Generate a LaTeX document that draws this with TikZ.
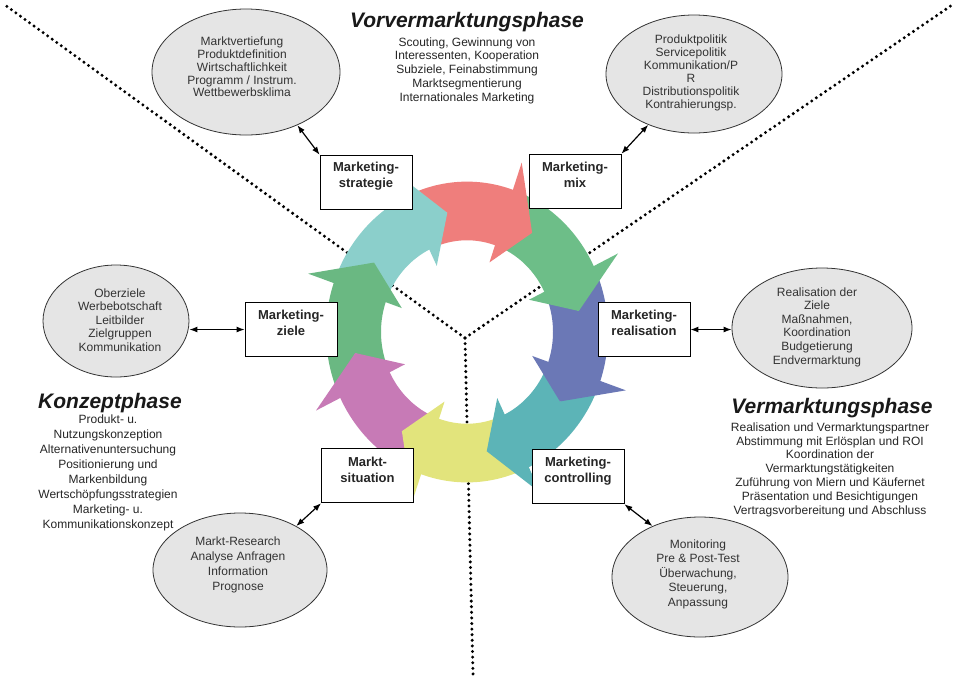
\documentclass[tikz,border=0pt]{standalone}
\usepackage{fontspec}
\setmainfont{Liberation Sans}
\usetikzlibrary{shapes.geometric,arrows.meta}
\definecolor{ringred}{HTML}{EF7E7C}
\definecolor{ringgreen}{HTML}{6DBE88}
\definecolor{ringblue}{HTML}{6B78B6}
\definecolor{ringteal}{HTML}{5CB4B7}
\definecolor{ringyellow}{HTML}{E2E47C}
\definecolor{ringmagenta}{HTML}{C77AB6}
\definecolor{ringgreentwo}{HTML}{6AB882}
\definecolor{ringcyan}{HTML}{8BCFCB}
\definecolor{ellfill}{HTML}{E5E5E5}
\newcommand{\ringbody}[4]{\fill[#4] (#1:141) -- plot[domain=#1:#2, samples=30] (\x:141) -- plot[domain=#2:#1, samples=30] (\x:86) -- (#3:113.5) -- cycle;}
\newcommand{\ringhead}[3]{\fill[#3] (#1:168) -- (#2:113.5) -- (#1:69) -- cycle;}
\begin{document}
\begin{tikzpicture}[x=0.75pt,y=-0.75pt,
 dotline/.style={line width=2.5pt, dash pattern=on 0pt off 4.2pt, line cap=round, black},
 mbox/.style={draw=black, fill=white, line width=0.6pt, minimum width=69pt, minimum height=41pt, inner sep=0pt},
 mtext/.style={font=\bfseries\fontsize{9.75}{12}\selectfont, align=center, inner sep=0pt, text=black!85},
 ell/.style={ellipse, draw=black!80, fill=ellfill, line width=0.6pt, inner sep=0pt},
 etext/.style={font=\fontsize{9}{#1}\selectfont, align=center, inner sep=0pt, text=black!80},
 etext/.default=10,
 ptitle/.style={font=\bfseries\itshape\fontsize{15.75}{18}\selectfont, inner sep=0pt, text=black!90},
 pbody/.style={font=\fontsize{9}{#1}\selectfont, align=center, inner sep=0pt, text=black!85},
 pbody/.default=10.35,
 link/.style={{Latex[length=6pt,width=4.5pt]}-{Latex[length=6pt,width=4.5pt]}, line width=0.9pt, black}]
\fill[white] (0,0) rectangle (957,676);
\useasboundingbox (0,0) rectangle (957,676);

% dotted phase separators
\coordinate (C) at (465,338);
\coordinate (TL) at (5,5);
\coordinate (TR) at (955,3);
\coordinate (BT) at (473,674);
\draw[dotline] (C) -- (TL);
\draw[dotline] (C) -- (TR);
\draw[dotline] (C) -- (BT);

% cycle of arrows
\begin{scope}[shift={(467,332)}, x=0.75pt, y=0.8pt]
\ringbody{115}{70}{100}{ringred}
\ringbody{70}{25}{55}{ringgreen}
\ringbody{25}{-20}{10}{ringblue}
\ringbody{-20}{-65}{-35}{ringteal}
\ringbody{-65}{-110}{-80}{ringyellow}
\ringbody{-110}{-155}{-125}{ringmagenta}
\ringbody{-155}{-200}{-170}{ringgreentwo}
\ringbody{160}{115}{145}{ringcyan}
\ringhead{71}{55}{ringred}
\ringhead{26}{10}{ringgreen}
\ringhead{-19}{-35}{ringblue}
\ringhead{-64}{-80}{ringteal}
\ringhead{-109}{-125}{ringyellow}
\ringhead{-154}{-170}{ringmagenta}
\ringhead{-199}{-215}{ringgreentwo}
\ringhead{116}{100}{ringcyan}
\end{scope}

% boxes
\node[mbox] (b1) at (366,182.5) {};
\node[mbox] (b2) at (575,181.5) {};
\node[mbox] (b3) at (291,329.5) {};
\node[mbox] (b4) at (644,329.5) {};
\node[mbox] (b5) at (367.5,475.5) {};
\node[mbox] (b6) at (578,476.5) {};
\node[mtext] (b1t) at (366,176) {Marketing-\\strategie};
\node[mtext] (b2t) at (575,175) {Marketing-\\mix};
\node[mtext] (b3t) at (291,322.5) {Marketing-\\ziele};
\node[mtext] (b4t) at (644,322.5) {Marketing-\\realisation};
\node[mtext] (b5t) at (367.5,470) {Markt-\\situation};
\node[mtext] (b6t) at (578,471) {Marketing-\\controlling};

% ellipses
\node[ell, minimum width=141pt, minimum height=94.5pt] (e1) at (246,72) {};
\node[ell, minimum width=132pt, minimum height=88.5pt] (e2) at (694,74) {};
\node[ell, minimum width=109.5pt, minimum height=84pt] (e3) at (116,321) {};
\node[ell, minimum width=135pt, minimum height=90pt] (e4) at (822,328) {};
\node[ell, minimum width=130.5pt, minimum height=85.5pt] (e5) at (240,570) {};
\node[ell, minimum width=132pt, minimum height=90pt] (e6) at (700,577) {};

\node[etext=9.6] (e1t) at (242,67) {Marktvertiefung\\Produktdefinition\\Wirtschaftlichkeit\\Programm / Instrum.\\Wettbewerbsklima};
\node[etext=9.75] (e2t) at (691,72.5) {Produktpolitik\\Servicepolitik\\Kommunikation/P\\R\\Distributionspolitik\\Kontrahierungsp.};
\node[etext=10.1] (e3t) at (120,320) {Oberziele\\Werbebotschaft\\Leitbilder\\Zielgruppen\\Kommunikation};
\node[etext=10.2] (e4t) at (817,327) {Realisation der\\Ziele\\Maßnahmen,\\Koordination\\Budgetierung\\Endvermarktung};
\node[etext=11.25] (e5t) at (238,564.5) {Markt-Research\\Analyse Anfragen\\Information\\Prognose};
\node[etext=10.9] (e6t) at (698,574) {Monitoring\\Pre \& Post-Test\\Überwachung,\\Steuerung,\\Anpassung};

% links
\draw[link] (b1.north west) -- (e1.-46);
\draw[link] (b2.north east) -- (e2.-132);
\draw[link] (b3.west) -- (b3.west -| e3.east);
\draw[link] (b4.east) -- (b4.east -| e4.west);
\draw[link] (b5.south west) -- (e5.38);
\draw[link] (b6.south east) -- (e6.133);

% phase texts
\node[ptitle] (p1) at (467,22) {Vorvermarktungsphase};
\node[pbody] (p1b) at (467,70.5) {Scouting, Gewinnung von\\Interessenten, Kooperation\\Subziele, Feinabstimmung\\Marktsegmentierung\\Internationales Marketing};
\node[ptitle] (p2) at (110,403) {Konzeptphase};
\node[pbody=11.2] (p2b) at (108,473) {Produkt- u.\\Nutzungskonzeption\\Alternativenuntersuchung\\Positionierung und\\Markenbildung\\Wertschöpfungsstrategien\\Marketing- u.\\Kommunikationskonzept};
\node[ptitle] (p3) at (832,408) {Vermarktungsphase};
\node[pbody] (p3b) at (830,469.5) {Realisation und Vermarktungspartner\\Abstimmung mit Erlösplan und ROI\\Koordination der\\Vermarktungstätigkeiten\\Zuführung von Miern und Käufernet\\Präsentation und Besichtigungen\\Vertragsvorbereitung und Abschluss};
\end{tikzpicture}
\end{document}
